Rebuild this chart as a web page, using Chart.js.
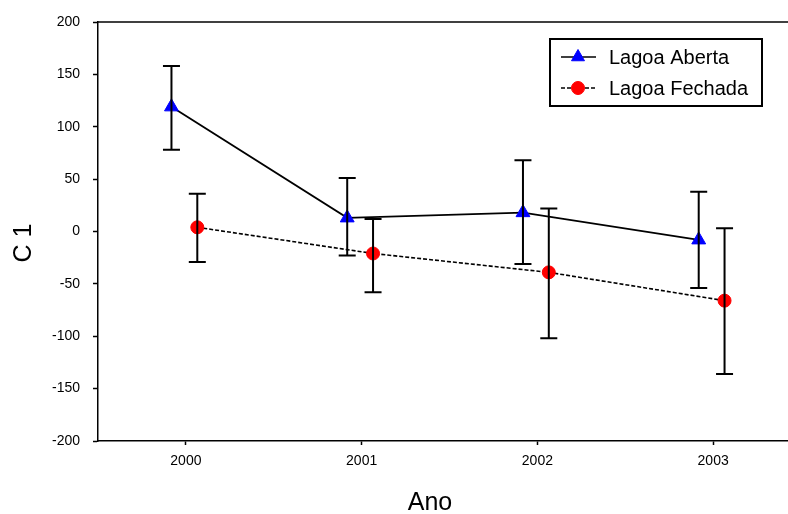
<!DOCTYPE html>
<html lang="pt">
<head>
  <meta charset="UTF-8">
  <title>C 1 por Ano</title>
  <style>
    * { margin: 0; padding: 0; }
    body { background: #fff; width: 788px; height: 514px; overflow: hidden; }
    canvas { display: block; }
  </style>
</head>
<body>
  <canvas id="chart" width="810" height="514"></canvas>

  <script src="https://cdn.jsdelivr.net/npm/chart.js"></script>
  <script>
    const years = ['2000', '2001', '2002', '2003'];

    const abertaMean = [119, 13, 18, -8];
    const abertaLow  = [78, -23, -31, -54];
    const abertaHigh = [158, 51, 68, 38];

    const fechadaMean = [4, -21, -39, -66];
    const fechadaLow  = [-29, -58, -102, -136];
    const fechadaHigh = [36, 12, 22, 3];

    const yTicks = [-200, -150, -100, -50, 0, 50, 100, 150, 200];

    const FONT = "'Liberation Sans', Arial, sans-serif";
    // small side shift so the two groups don't overlap on the same year
    const SHIFT_A = -0.082, SHIFT_F = 0.065;

    const toPoints = (vals, shift) => vals.map((v, i) => ({ x: i + shift, y: v }));

    // error bars drawn with the y scale of the chart
    const errorBars = {
      id: 'errorBars',
      afterDatasetsDraw(chart) {
        const ctx = chart.ctx;
        const y = chart.scales.y;
        const ranges = [[abertaLow, abertaHigh], [fechadaLow, fechadaHigh]];
        ctx.save();
        ctx.strokeStyle = '#000';
        ctx.lineWidth = 2;
        ranges.forEach((r, d) => {
          chart.getDatasetMeta(d).data.forEach((pt, i) => {
            const top = y.getPixelForValue(r[1][i]);
            const bot = y.getPixelForValue(r[0][i]);
            ctx.beginPath();
            ctx.moveTo(pt.x, top); ctx.lineTo(pt.x, bot);
            ctx.moveTo(pt.x - 8.5, top); ctx.lineTo(pt.x + 8.5, top);
            ctx.moveTo(pt.x - 8.5, bot); ctx.lineTo(pt.x + 8.5, bot);
            ctx.stroke();
          });
        });
        ctx.restore();
      }
    };

    // top frame line, axis titles and the boxed legend
    const decorations = {
      id: 'decorations',
      afterDraw(chart) {
        const ctx = chart.ctx;
        const area = chart.chartArea;
        ctx.save();
        ctx.strokeStyle = '#000';
        ctx.lineWidth = 1.5;
        ctx.beginPath();
        ctx.moveTo(area.left, area.top);
        ctx.lineTo(chart.width, area.top);
        ctx.stroke();

        ctx.fillStyle = '#000';
        ctx.font = '25px ' + FONT;
        ctx.textAlign = 'center';
        ctx.textBaseline = 'middle';
        ctx.fillText('Ano', 430, 503);
        ctx.save();
        ctx.translate(24, 243);
        ctx.rotate(-Math.PI / 2);
        ctx.fillText('C 1', 0, 0);
        ctx.restore();

        // legend
        ctx.lineWidth = 2;
        ctx.strokeRect(550, 39, 212, 67);
        const rows = [
          { label: 'Lagoa Aberta', y: 57, dash: [], style: 'triangle', color: '#0000ff', r: 7.5 },
          { label: 'Lagoa Fechada', y: 88, dash: [4, 2], style: 'circle', color: '#ff0000', r: 6.5 }
        ];
        rows.forEach(row => {
          ctx.strokeStyle = '#000';
          ctx.lineWidth = 1.5;
          ctx.setLineDash(row.dash);
          ctx.beginPath();
          ctx.moveTo(561, row.y); ctx.lineTo(596, row.y);
          ctx.stroke();
          ctx.setLineDash([]);
          ctx.fillStyle = row.color;
          ctx.strokeStyle = row.color;
          ctx.lineWidth = 1;
          Chart.helpers.drawPoint(ctx, { pointStyle: row.style, radius: row.r, borderWidth: 1 }, 578, row.y);
          ctx.fillStyle = '#000';
          ctx.font = '20px ' + FONT;
          ctx.textAlign = 'left';
          ctx.textBaseline = 'middle';
          ctx.fillText(row.label, 609, row.y + 1);
        });
        ctx.restore();
      }
    };

    new Chart(document.getElementById('chart'), {
      type: 'line',
      data: {
        datasets: [
          {
            label: 'Lagoa Aberta',
            data: toPoints(abertaMean, SHIFT_A),
            borderColor: '#000',
            borderWidth: 1.8,
            pointStyle: 'triangle',
            pointRadius: 8,
            pointBackgroundColor: '#0000ff',
            pointBorderColor: '#0000ff',
            pointBorderWidth: 1,
            tension: 0
          },
          {
            label: 'Lagoa Fechada',
            data: toPoints(fechadaMean, SHIFT_F),
            borderColor: '#000',
            borderWidth: 1.6,
            borderDash: [4, 2],
            pointStyle: 'circle',
            pointRadius: 6.5,
            pointBackgroundColor: '#ff0000',
            pointBorderColor: '#ff0000',
            pointBorderWidth: 1,
            tension: 0
          }
        ]
      },
      options: {
        responsive: false,
        animation: false,
        devicePixelRatio: 1,
        layout: { padding: { top: 22, left: 0, right: 0, bottom: 0 } },
        plugins: {
          legend: { display: false },
          tooltip: { enabled: false }
        },
        scales: {
          x: {
            type: 'linear',
            min: -0.5,
            max: 3.5,
            afterBuildTicks: s => { s.ticks = years.map((_, i) => ({ value: i })); },
            afterFit: s => { s.height = 73; },
            ticks: {
              callback: v => years[v],
              color: '#000',
              font: { family: FONT, size: 14 },
              padding: 8,
              maxRotation: 0
            },
            grid: { drawOnChartArea: false, tickLength: 4, tickColor: '#000', tickWidth: 1.5 },
            border: { color: '#000', width: 1.5 }
          },
          y: {
            min: -200,
            max: 200,
            afterBuildTicks: s => { s.ticks = yTicks.map(v => ({ value: v })); },
            afterFit: s => { s.width = 98; },
            ticks: {
              color: '#000',
              font: { family: FONT, size: 14 },
              padding: 13
            },
            grid: { drawOnChartArea: false, tickLength: 5, tickColor: '#000', tickWidth: 1.5 },
            border: { color: '#000', width: 1.5 }
          }
        }
      },
      plugins: [errorBars, decorations]
    });
  </script>
</body>
</html>
